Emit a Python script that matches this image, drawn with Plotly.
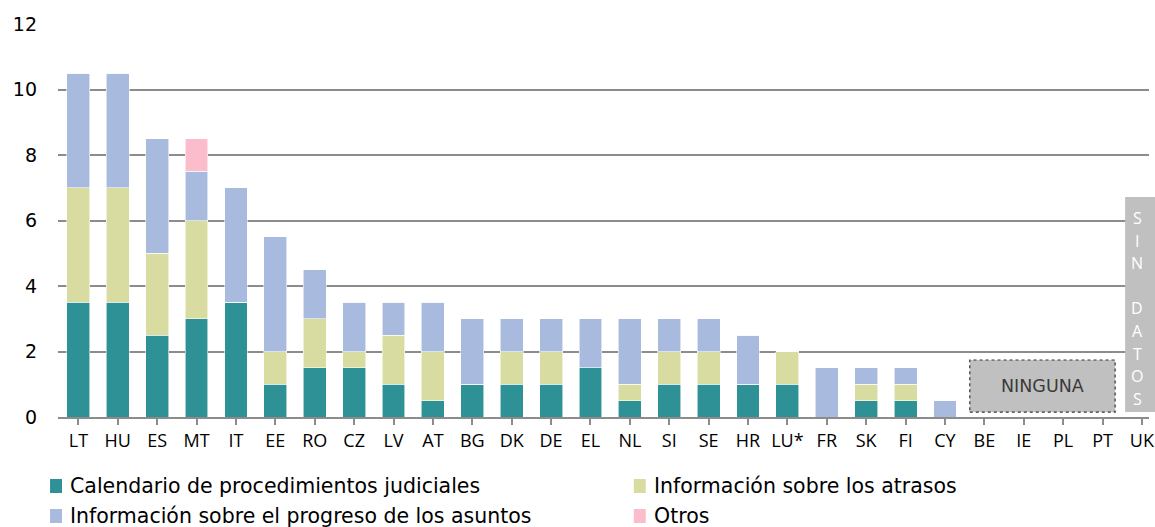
import plotly.graph_objects as go

countries = ["LT", "HU", "ES", "MT", "IT", "EE", "RO", "CZ", "LV", "AT", "BG", "DK", "DE", "EL",
             "NL", "SI", "SE", "HR", "LU*", "FR", "SK", "FI", "CY", "BE", "IE", "PL", "PT", "UK"]

calendario = [3.5, 3.5, 2.5, 3.0, 3.5, 1.0, 1.5, 1.5, 1.0, 0.5, 1.0, 1.0, 1.0, 1.5,
              0.5, 1.0, 1.0, 1.0, 1.0, 0.0, 0.5, 0.5, 0.0, 0, 0, 0, 0, 0]
atrasos = [3.5, 3.5, 2.5, 3.0, 0.0, 1.0, 1.5, 0.5, 1.5, 1.5, 0.0, 1.0, 1.0, 0.0,
           0.5, 1.0, 1.0, 0.0, 1.0, 0.0, 0.5, 0.5, 0.0, 0, 0, 0, 0, 0]
progreso = [3.5, 3.5, 3.5, 1.5, 3.5, 3.5, 1.5, 1.5, 1.0, 1.5, 2.0, 1.0, 1.0, 1.5,
            2.0, 1.0, 1.0, 1.5, 0.0, 1.5, 0.5, 0.5, 0.5, 0, 0, 0, 0, 0]
otros = [0, 0, 0, 1.0, 0, 0, 0, 0, 0, 0, 0, 0, 0, 0,
         0, 0, 0, 0, 0, 0, 0, 0, 0, 0, 0, 0, 0, 0]

series = [
    ("Calendario de procedimientos judiciales", calendario, "#2e9196"),
    ("Información sobre los atrasos", atrasos, "#d9dca0"),
    ("Información sobre el progreso de los asuntos", progreso, "#a9badf"),
    ("Otros", otros, "#fbbdcb"),
]

FONT = "Open Sans, sans-serif"
LEG_FONT = "DejaVu Sans, sans-serif"
W, H = 1155, 527
ML, MR, MT, MB = 58, 0, 24, 110
PW, PH = W - ML - MR, H - MT - MB


def px(x):
    return (x - ML) / PW


def py(y):
    return (H - MB - y) / PH


fig = go.Figure()
for name, vals, color in series:
    fig.add_trace(go.Bar(
        x=list(range(len(countries))), y=vals, name=name,
        marker=dict(color=color, line=dict(color="rgba(255,255,255,0.7)", width=0.8)),
        width=0.58, showlegend=False,
    ))

# Legend drawn as two columns of coloured squares with labels
legend_pos = [(50, 486), (637, 486), (50, 516), (637, 516)]
for (name, _, color), (lx, ly) in zip(series, legend_pos):
    fig.add_shape(type="rect", xref="paper", yref="paper",
                  x0=px(lx), x1=px(lx + 12), y0=py(ly + 7), y1=py(ly - 7),
                  fillcolor=color, line=dict(width=0))
    fig.add_annotation(x=px(lx + 18), y=py(ly), xref="paper", yref="paper", text=name,
                       showarrow=False, xanchor="left", yanchor="middle",
                       font=dict(family=LEG_FONT, size=20.5, color="black"))

# "NINGUNA" box over the countries without any measure
fig.add_shape(type="rect", xref="x", yref="y", x0=22.63, x1=26.32, y0=0.15, y1=1.74,
              fillcolor="#c0c0c0", line=dict(color="#333333", width=1.2, dash="dot"), layer="above")
fig.add_annotation(x=24.47, y=0.95, xref="x", yref="y", text="NINGUNA", showarrow=False,
                   font=dict(family=LEG_FONT, size=17.5, color="#3a3a3a"))

# "SIN DATOS" vertical band running off the right edge
fig.add_shape(type="rect", xref="paper", yref="y", x0=px(1131), x1=px(1165), y0=0.15, y1=6.72,
              fillcolor="#c0c0c0", line=dict(width=0), layer="above")
letters = ["S", "I", "N", "", "D", "A", "T", "O", "S"]
y_top = (417 - 218) / 32.75
step = 0.69
for i, ch in enumerate(letters):
    if ch:
        fig.add_annotation(x=px(1143), y=y_top - i * step, xref="paper", yref="y", text=ch,
                           xanchor="center", yanchor="middle",
                           showarrow=False, font=dict(family=FONT, size=16, color="white"))

fig.update_layout(
    barmode="stack",
    width=W, height=H,
    margin=dict(l=ML, r=MR, t=MT, b=MB),
    plot_bgcolor="white", paper_bgcolor="white",
    font=dict(family=FONT, color="black"),
    showlegend=False,
)
fig.update_xaxes(
    range=[-0.518, 27.18], tickmode="array", tickvals=list(range(len(countries))), ticktext=countries,
    tickfont=dict(family=FONT, size=18, color="black"),
    ticklabeloverflow="allow",
    showline=True, linecolor="#8c8c8c", linewidth=2,
    ticks="outside", tickson="boundaries", ticklen=6, tickcolor="#8c8c8c", tickwidth=1.5,
    showgrid=False,
)
fig.update_yaxes(
    range=[0, 12], dtick=2, showgrid=True, gridcolor="#8c8c8c", gridwidth=2,
    zeroline=False, showline=False,
    tickfont=dict(family="DejaVu Sans", size=19, color="black"),
    ticklabelstandoff=20,
)

fig.write_html("out.html")
